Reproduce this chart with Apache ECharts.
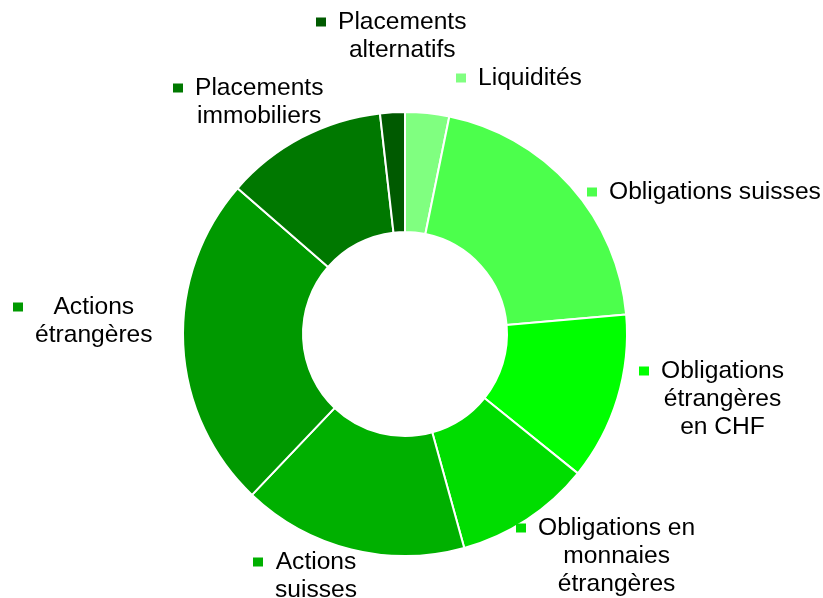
<!DOCTYPE html>
<html>
<head>
<meta charset="utf-8">
<script src="https://cdn.jsdelivr.net/npm/echarts@6/dist/echarts.min.js"></script>
<style>
html,body{margin:0;padding:0;background:#fff;}
#chart{width:823px;height:598px;}
</style>
</head>
<body>
<div id="chart"></div>
<script>
// Data
var categories = [
  'Liquidités',
  'Obligations suisses',
  'Obligations\nétrangères\nen CHF',
  'Obligations en\nmonnaies\nétrangères',
  'Actions\nsuisses',
  'Actions\nétrangères',
  'Placements\nimmobiliers',
  'Placements\nalternatifs'
];
var values = [3.2, 20.4, 12.2, 9.9, 16.4, 24.3, 11.8, 1.8];
var colors = ['#80FF80', '#4CFF4C', '#00FF00', '#00DD00', '#00B000', '#009900', '#007800', '#005A00'];

// Label layout (square left x, top of first text line)
var labelPos = [
  [456, 64],
  [587, 178],
  [639, 357],
  [516, 514],
  [253, 548],
  [13, 293],
  [173, 74],
  [316, 8]
];

var chart = echarts.init(document.getElementById('chart'), null, {renderer: 'canvas'});

var data = categories.map(function (c, i) {
  return {name: c, value: values[i], itemStyle: {color: colors[i]}};
});

chart.setOption({
  animation: false,
  backgroundColor: '#ffffff',
  series: [{
    type: 'pie',
    center: [405, 334],
    radius: [102, 222],
    startAngle: 90,
    clockwise: true,
    avoidLabelOverlap: false,
    data: data,
    itemStyle: {borderColor: '#ffffff', borderWidth: 2},
    labelLine: {show: false},
    label: {
      show: true,
      position: 'outside',
      formatter: function (p) {
        var lines = p.name.split('\n');
        var sqStyle = 'sq' + p.dataIndex;
        return lines.map(function (l, k) {
          return (k === 0 ? '{' + sqStyle + '|}{gap|}' : '{sp|}') + '{t|' + l + '}';
        }).join('\n');
      },
      rich: (function () {
        var r = {
          t: {fontFamily: 'Liberation Sans, Arial, sans-serif', fontSize: 24.6, color: '#000', lineHeight: 28, align: 'center'},
          gap: {width: 12, height: 9, align: 'left'},
          sp: {width: 22, height: 9, align: 'left'}
        };
        colors.forEach(function (c, i) {
          r['sq' + i] = {width: 10, height: 9, backgroundColor: c, align: 'left'};
        });
        return r;
      })()
    },
    labelLayout: function (p) {
      var pos = labelPos[p.dataIndex];
      return {x: pos[0], y: pos[1], align: 'left', verticalAlign: 'top', hideOverlap: false};
    }
  }]
});
</script>
</body>
</html>
